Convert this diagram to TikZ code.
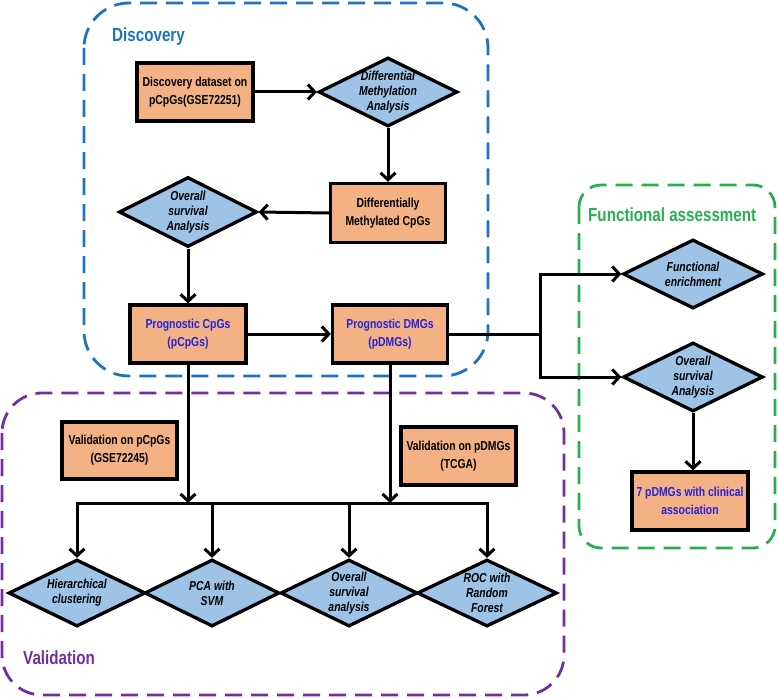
\documentclass[tikz,border=0pt]{standalone}
\usepackage{fontspec}
\setmainfont{Liberation Sans}[FakeStretch=0.8]
\usetikzlibrary{shapes.geometric,arrows.meta,calc}
\definecolor{boxfill}{RGB}{244,177,131}
\definecolor{diafill}{RGB}{157,195,230}
\definecolor{discblue}{RGB}{30,115,190}
\definecolor{valpurple}{RGB}{112,48,160}
\definecolor{funcgreen}{RGB}{40,176,80}
\definecolor{progblue}{RGB}{35,35,215}
\begin{document}
\begin{tikzpicture}[x=1pt,y=-1pt,
  stepbox/.style={draw=black, line width=3.3pt, fill=boxfill, minimum width=116pt, minimum height=58pt, inner sep=0pt, align=center, font=\fontsize{13}{18}\selectfont\bfseries},
  dia/.style={draw=black, line width=3.3pt, fill=diafill, shape=diamond, minimum width=139pt, minimum height=69pt, inner sep=0pt},
  diatext/.style={align=center, inner sep=0pt, font=\fontsize{13}{15}\selectfont\bfseries\itshape},
  arr/.style={line width=3pt, -{Straight Barb[length=7pt,width=15pt]}},
  plain/.style={line width=3pt},
  frame/.style={line width=2.8pt, dash pattern=on 17pt off 9pt},
  ttl/.style={anchor=west, inner sep=0pt, font=\fontsize{19}{22}\selectfont\bfseries}
]
\useasboundingbox (0,0) rectangle (778,698);

% frames
\draw[frame, discblue, rounded corners=45pt] (84,3) rectangle (488,376);
\draw[frame, valpurple, rounded corners=40pt] (2,393) rectangle (564,695);
\draw[frame, funcgreen, rounded corners=22pt] (579,185) rectangle (775,548);

\node[ttl, text=discblue] (tdisc) at (112,37) {Discovery};
\node[ttl, text=funcgreen] (tfunc) at (588,215) {Functional assessment};
\node[ttl, text=valpurple] (tval) at (23,658) {Validation};

% discovery
\node[stepbox] (ds) at (195,92) {Discovery dataset on\\pCpGs(GSE72251)};
\node[dia, label={[diatext]center:{Differential\\Methylation\\Analysis}}] (dma) at (388,92) {};
\node[stepbox, minimum width=115pt, minimum height=59pt] (dmc) at (388,213) {Differentially\\Methylated CpGs};
\node[dia, minimum width=138pt, minimum height=70pt, label={[diatext]center:{Overall\\survival\\Analysis}}] (os1) at (188,212) {};
\node[stepbox, text=progblue] (pc) at (188,334) {Prognostic CpGs\\(pCpGs)};
\node[stepbox, minimum width=115pt, text=progblue] (pd) at (390,334) {Prognostic DMGs\\(pDMGs)};

% functional
\node[dia, minimum width=140pt, label={[diatext]center:{Functional\\enrichment}}] (fe) at (693,274) {};
\node[dia, minimum width=140pt, label={[diatext]center:{Overall\\survival\\Analysis}}] (os2) at (693,377) {};
\node[stepbox, text=progblue] (cl) at (690,501) {7 pDMGs with clinical\\association};

% validation
\node[stepbox, minimum width=115pt, minimum height=57pt] (vc) at (119.5,450.5) {Validation on pCpGs\\(GSE72245)};
\node[stepbox, minimum width=115pt, minimum height=58pt] (vd) at (458.5,456) {Validation on pDMGs\\(TCGA)};

\node[dia, minimum width=137pt, minimum height=67pt, label={[diatext]center:{Hierarchical\\clustering}}] (hc) at (77,593) {};
\node[dia, minimum width=135pt, minimum height=67pt, label={[diatext]center:{PCA with\\SVM}}] (pca) at (212,593) {};
\node[dia, minimum width=137pt, minimum height=67pt, label={[diatext]center:{Overall\\survival\\analysis}}] (osa) at (349,593) {};
\node[dia, minimum width=140pt, minimum height=67pt, label={[diatext]center:{ROC with\\Random\\Forest}}] (roc) at (487,593) {};

% connectors
\draw[arr] (ds.east) -- (dma.west);
\draw[arr] (dma.south) -- (dmc.north);
\draw[arr] (dmc.west) -- (os1.east);
\draw[arr] (os1.south) -- (pc.north);
\draw[arr] (pc.east) -- (pd.west);

\coordinate (br) at (540,334);
\draw[plain] (pd.east) -- (br);
\draw[arr] (br) |- (fe.west);
\draw[arr] (br) |- (os2.west);
\draw[arr] (os2.south) -- (os2.south |- cl.north);

\coordinate (bm) at (282,503);
\draw[arr] (pc.south) -- (pc.south |- bm);
\draw[arr] (pd.south) -- (pd.south |- bm);
\draw[arr] (bm) -| (hc.north);
\draw[arr] (bm) -| (roc.north);
\draw[arr] (pca.north |- bm) -- (pca.north);
\draw[arr] (osa.north |- bm) -- (osa.north);
\end{tikzpicture}
\end{document}
